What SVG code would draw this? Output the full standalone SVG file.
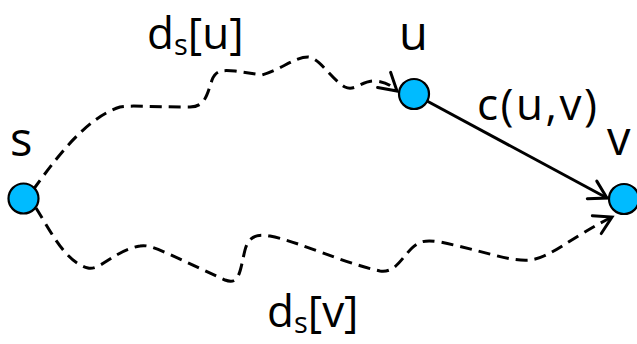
<svg xmlns="http://www.w3.org/2000/svg" width="637" height="344" viewBox="0 0 637 344">
  <style>
    .lbl { font-family: "Open Sans", "DejaVu Sans", sans-serif; fill: #000; }
    .big { font-size: 47px; }
    .mid { font-size: 44px; }
    .node { fill: #00BBFF; stroke: #000; stroke-width: 2.2; }
    .edge { fill: none; stroke: #000; stroke-width: 3; }
    .dash { stroke-dasharray: 12 7; }
  </style>
  <defs>
    <marker id="arr" markerUnits="userSpaceOnUse" orient="auto" refX="0" refY="0" markerWidth="40" markerHeight="40" viewBox="-20 -20 40 40" overflow="visible">
      <path d="M-17,-10 L0,0 L-17,10" fill="none" stroke="#000" stroke-width="3" stroke-dasharray="none" stroke-linecap="round" stroke-linejoin="miter"/>
    </marker>
  </defs>

  <g id="connectors">
    <path class="edge dash" marker-end="url(#arr)" d="M33,190 C55,160 85,118 120,107 C130,105 150,107 190,107 C205,107 207,95 212,80 C216,70 222,70 235,71 L262,75 C280,70 295,57 308,57 C320,58 330,78 345,87 C355,92 362,80 376,81 C386,82 390,85 397,91"/>
    <path class="edge dash" marker-end="url(#arr)" d="M36,208 C50,230 65,262 88,268 C100,271 115,250 140,246 C150,244 160,250 225,280 C240,286 240,270 245,250 C248,238 255,233 270,236 C300,242 340,262 380,271 C395,273 400,260 412,248 C420,240 428,240 440,242 C480,250 510,262 530,260 C550,258 570,238 612,217"/>
    <path class="edge" marker-end="url(#arr)" d="M414,94 L607,198"/>
    <text class="lbl mid" x="147" y="49">d<tspan font-size="29" dy="6">s</tspan><tspan dy="-6">[u]</tspan></text>
    <text class="lbl mid" x="267" y="327">d<tspan font-size="29" dy="6">s</tspan><tspan dy="-6">[v]</tspan></text>
    <text class="lbl mid" x="477" y="120" letter-spacing="2.5">c(u,v)</text>
  </g>

  <g id="node-s">
    <circle class="node" cx="23.5" cy="198.5" r="15"/>
    <text class="lbl big" x="10" y="156">s</text>
  </g>
  <g id="node-u">
    <circle class="node" cx="414" cy="94" r="15"/>
    <text class="lbl big" x="399" y="50">u</text>
  </g>
  <g id="node-v">
    <circle class="node" cx="624" cy="199" r="15"/>
    <text class="lbl big" x="607" y="155">v</text>
  </g>
</svg>
